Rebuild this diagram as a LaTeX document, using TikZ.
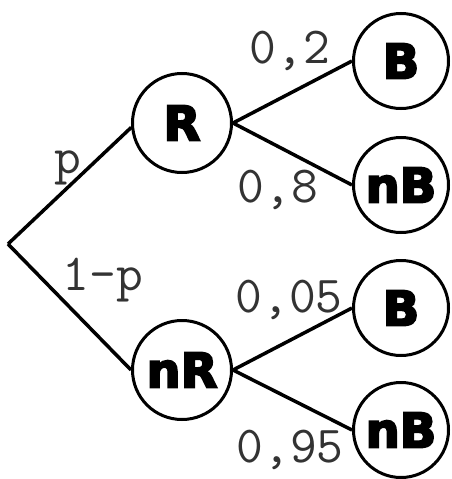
\documentclass[tikz,border=0pt]{standalone}
\usepackage{fontspec}
\newfontfamily\nodefont{DejaVu Sans}[BoldFeatures={FakeBold=4}]
\begin{document}
\begin{tikzpicture}[x=1pt,y=-1pt,
  state/.style={circle,draw,line width=3pt,minimum size=99pt,inner sep=0pt,
    font=\nodefont\bfseries\fontsize{48}{48}\selectfont},
  leaf/.style={state,minimum size=95pt},
  branch/.style={line width=3.5pt},
  prob/.style={font=\ttfamily\fontsize{52}{52}\selectfont,text=black!80,anchor=base,inner sep=0pt}]
\useasboundingbox[fill=white] (0,0) rectangle (452,479);
\coordinate (root) at (8,244);
\node[state] (R) at (182,123) {R};
\node[state] (nR) at (182,370) {nR};
\node[leaf] (B1) at (401,61) {B};
\node[leaf] (nB1) at (401,185) {nB};
\node[leaf] (B2) at (401,308) {B};
\node[leaf] (nB2) at (401,430) {nB};
\draw[branch] (root) -- (R.185);
\draw[branch] (root) -- (nR.west);
\draw[branch] (R.east) -- (B1.west);
\draw[branch] (R.east) -- (nB1.west);
\draw[branch] (nR.east) -- (B2.west);
\draw[branch] (nR.east) -- (nB2.west);
\node[prob] (lp) at (68,173) {p};
\node[prob] (lq) at (103,290) {1-p};
\node[prob] (l1) at (290,63) {0,2};
\node[prob] (l2) at (278,202) {0,8};
\node[prob] (l3) at (289,312) {0,05};
\node[prob] (l4) at (290,462) {0,95};
\end{tikzpicture}
\end{document}
